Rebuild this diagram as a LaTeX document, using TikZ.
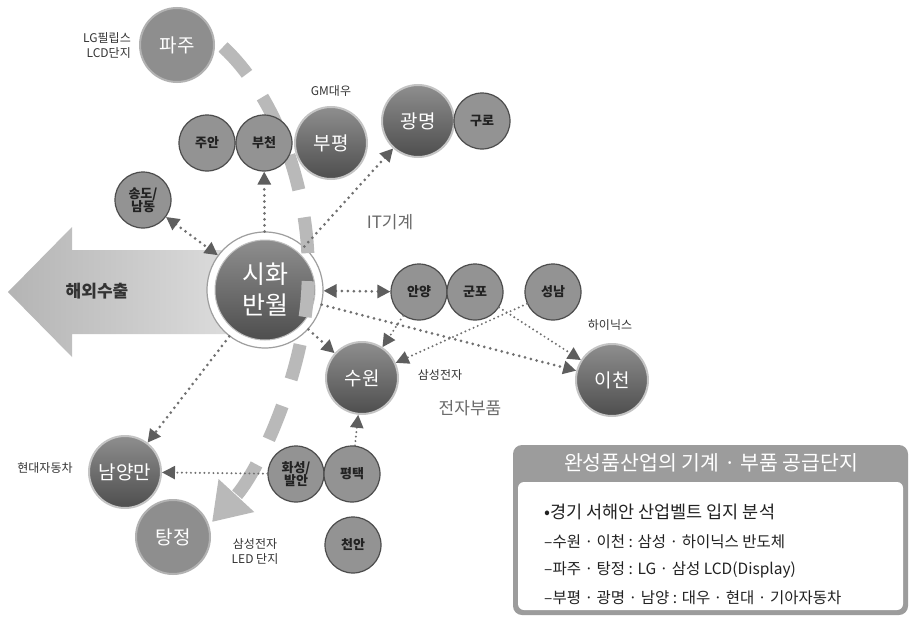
\documentclass[tikz,border=0pt]{standalone}
\usepackage{fontspec}
\setmainfont{Noto Sans CJK KR}
\usetikzlibrary{arrows.meta,shapes.geometric}
\definecolor{dotgray}{HTML}{707070}
\definecolor{tipgray}{HTML}{5E5E5E}
\definecolor{bigtop}{HTML}{8E8E8E}
\definecolor{bigbot}{HTML}{4E4E4E}
\definecolor{bigring}{HTML}{C4C4C4}
\definecolor{midfill}{HTML}{8E8E8E}
\definecolor{midring}{HTML}{B2B2B2}
\definecolor{smfill}{HTML}{939393}
\definecolor{smring}{HTML}{4C4C4C}
\definecolor{smtext}{HTML}{222222}
\definecolor{lbltext}{HTML}{333333}
\definecolor{softtext}{HTML}{6A6A6A}
\definecolor{bandgray}{HTML}{B9B9B9}
\definecolor{arrowl}{HTML}{B4B4B4}
\definecolor{arrowr}{HTML}{DEDEDE}
\definecolor{boxgray}{HTML}{9C9C9C}
\tikzset{
  bigc/.style={circle,inner sep=0pt,minimum size=72pt,top color=bigtop,bottom color=bigbot,draw=bigring,line width=2pt,text=white,font=\fontsize{19}{21}\selectfont},
  midc/.style={circle,inner sep=0pt,minimum size=74pt,fill=midfill,draw=midring,line width=2pt,text=white,font=\fontsize{19}{21}\selectfont},
  smallc/.style={circle,inner sep=0pt,minimum size=56pt,fill=smfill,draw=smring,line width=1.2pt,text=smtext,align=center,font=\fontsize{13}{15}\selectfont\bfseries},
  lbl/.style={inner sep=0pt,align=center,text=lbltext,font=\fontsize{12}{15}\selectfont},
  softlbl/.style={inner sep=0pt,text=softtext,font=\fontsize{17}{19}\selectfont},
  dotc/.style={draw=dotgray,line width=3pt,line cap=round,dash pattern=on 0pt off 6pt},
  thindot/.style={draw=dotgray,line width=2.2pt,line cap=round,dash pattern=on 0pt off 4.5pt},
  arr/.style={-{Triangle[length=13pt,width=13pt,color=tipgray]}},
  darr/.style={{Triangle[length=13pt,width=13pt,color=tipgray]}-{Triangle[length=13pt,width=13pt,color=tipgray]}},
  band/.style={draw=bandgray,line width=13pt,dash pattern=on 36pt off 28pt,-{Triangle[length=36pt,width=46pt,color=bandgray]}},
  legtext/.style={anchor=west,inner sep=0pt,text=smtext,font=\fontsize{15.5}{18}\selectfont}
}
\begin{document}
\begin{tikzpicture}[x=1pt,y=-1pt]
\useasboundingbox[fill=white] (0,0) rectangle (915,618);

% export arrow
\shade[left color=arrowl,right color=arrowr] (8,292) -- (72,227) -- (72,250) -- (240,250) -- (240,334) -- (72,334) -- (72,357) -- cycle;
\node[inner sep=0pt,text=lbltext,font=\fontsize{17}{19}\selectfont\bfseries] (export) at (97,291) {해외수출};

% central node
\node[circle,inner sep=0pt,minimum size=116pt,fill=white,draw=black!38,line width=1.2pt] (sihwa) at (265,290) {};
\node[circle,inner sep=0pt,minimum size=100pt,top color=bigtop,bottom color=bigbot,draw=black!25,line width=1pt,text=white,align=center,font=\fontsize{25}{31}\selectfont] (sihwain) at (265,290) {시화\\반월};

% thick dashed band
\draw[band] (223,47) .. controls (275,95) and (312,190) .. (308,285) .. controls (305,370) and (260,470) .. (212,522);

% circles
\node[midc] (paju) at (177,45) {파주};
\node[smallc] (juan) at (207,143) {주안};
\node[smallc] (bucheon) at (264,143) {부천};
\node[bigc] (bupyeong) at (331,143) {부평};
\node[bigc] (gwangmyeong) at (418,121) {광명};
\node[smallc] (guro) at (482,121) {구로};
\node[smallc] (songdo) at (143,200) {송도/\\[-2pt]남동};
\node[smallc] (anyang) at (419,292) {안양};
\node[smallc] (gunpo) at (475,292) {군포};
\node[smallc] (seongnam) at (553,292) {성남};
\node[bigc] (icheon) at (612,380) {이천};
\node[bigc] (suwon) at (362,378) {수원};
\node[bigc] (namyang) at (125,472) {남양만};
\node[midc] (tangjeong) at (173,537) {탕정};
\node[smallc] (hwaseong) at (296,474) {화성/\\[-2pt]발안};
\node[smallc] (pyeongtaek) at (352,474) {평택};
\node[smallc] (cheonan) at (353,545) {천안};

% labels
\node[lbl,align=right,anchor=east] (lgl) at (131,46) {LG필립스\\LCD단지};
\node[lbl] (gml) at (331,91) {GM대우};
\node[softlbl] (itl) at (390,222) {IT기계};
\node[lbl] (hynixl) at (610,325) {하이닉스};
\node[lbl] (samsungl) at (440,375) {삼성전자};
\node[softlbl] (elecl) at (470,408) {전자부품};
\node[lbl] (hyundail) at (45,468) {현대자동차};
\node[lbl] (ledl) at (255,551) {삼성전자\\LED 단지};

% connectors
\draw[dotc,arr] (sihwa) -- (bucheon);
\draw[dotc,arr] (sihwa) -- (gwangmyeong);
\draw[dotc,darr] (songdo) -- (sihwa);
\draw[dotc,darr] (sihwa) -- (anyang);
\draw[dotc,arr] (sihwa) -- (suwon);
\draw[dotc,arr] (sihwa) -- (icheon);
\draw[dotc,arr] (sihwa) -- (namyang);
\draw[thindot,arr] (anyang) -- (suwon);
\draw[thindot,arr] (seongnam) -- (suwon);
\draw[thindot,arr] (gunpo) -- (icheon);
\draw[thindot,arr] (hwaseong) -- (namyang);
\draw[thindot,arr] (pyeongtaek) -- (suwon);

% legend box
\path[fill=boxgray,rounded corners=9pt] (513,445) rectangle (908,615);
\path[fill=white,rounded corners=6pt] (518,482) rectangle (903,610);
\node[inner sep=0pt,text=white,font=\fontsize{20.5}{23}\selectfont] (legtitle) at (711,463) {완성품산업의 기계 · 부품 공급단지};
\node[legtext,font=\fontsize{17.5}{20}\selectfont] (leg1) at (544,512) {•경기 서해안 산업벨트 입지 분석};
\node[legtext] (leg2) at (544,542) {–수원 · 이천 : 삼성 · 하이닉스 반도체};
\node[legtext] (leg3) at (544,570) {–파주 · 탕정 : LG · 삼성 LCD(Display)};
\node[legtext] (leg4) at (544,598) {–부평 · 광명 · 남양 : 대우 · 현대 · 기아자동차};
\end{tikzpicture}
\end{document}
